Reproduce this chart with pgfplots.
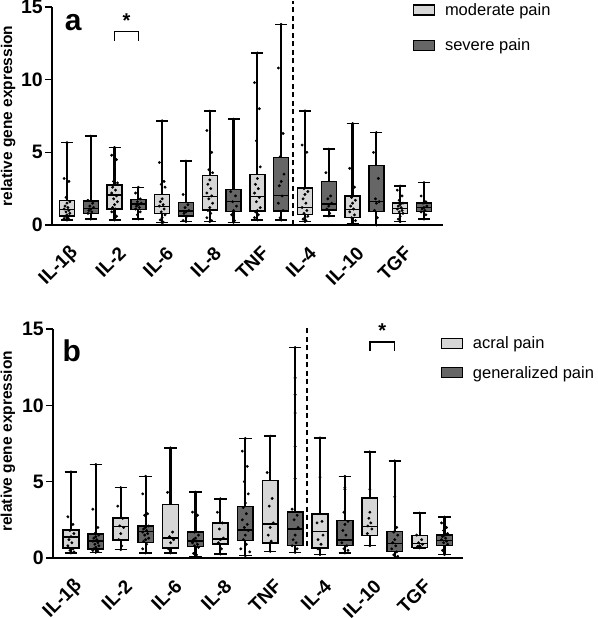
\documentclass[border=0pt]{standalone}
\usepackage{fontspec}
\setmainfont{Liberation Sans}
\usepackage{pgfplots}
\pgfplotsset{compat=1.18}
\usepgfplotslibrary{statistics}
\definecolor{lightg}{RGB}{214,214,214}
\definecolor{darkg}{RGB}{102,102,102}

% #1 position, #2 lower whisker, #3 q1, #4 median, #5 q3, #6 upper whisker, #7 fill
\newcommand{\bx}[7]{%
\addplot[black, line width=2.2pt, forget plot] coordinates {(#1,#2) (#1,#3)};
\addplot[black, line width=2.2pt, forget plot] coordinates {(#1,#5) (#1,#6)};
\addplot[boxplot prepared={draw position=#1, lower whisker=#2, lower quartile=#3, median=#4, upper quartile=#5, upper whisker=#6, box extend=0.63, whisker extend=0.5}, fill=#7, draw=black, solid, line width=1.5pt, forget plot] coordinates {};}

\pgfplotsset{
 prism/.style={
  scale only axis,
  axis lines=left,
  axis line style={-, line width=1.6pt},
  ymin=0, ymax=15,
  ytick={0,5,10,15},
  tick align=outside,
  major tick length=7pt,
  ytick style={line width=1.6pt, black},
  xtick={0,2,...,14},
  xticklabels={IL-1β, IL-2, IL-6, IL-8, TNF, IL-4, IL-10, TGF},
  xtick style={draw=none},
  yticklabel style={font=\fontsize{19.5}{22}\selectfont\bfseries, inner sep=2pt},
  xticklabel style={font=\fontsize{19}{22}\selectfont\bfseries, inner sep=0pt, xshift=8pt, yshift=-18pt, rotate=45, anchor=east},
  /pgf/number format/assume math mode=true,
  clip=false,
  ylabel={relative gene expression},
  ylabel style={font=\fontsize{15.5}{18}\selectfont\bfseries},
  legend style={draw=none, fill=none, font=\fontsize{16.5}{20}\selectfont, inner sep=0pt, nodes={inner sep=1pt}, column sep=9pt},
  legend cell align=left,
  boxplot/draw direction=y,
  boxplot/every median/.style={line width=1.5pt},
 },
 dots/.style={only marks, mark=*, mark size=1.25pt, black, forget plot},
}

\begin{document}
\begin{tikzpicture}[x=1pt,y=1pt]
% ---------------- panel a ----------------
\begin{axis}[prism, at={(52pt,393pt)}, anchor=south west, width=391pt, height=218pt,
  xmin=-0.63, xmax=15.8,
  ylabel style={at={(axis description cs:-0.112,0.5)}, anchor=center},
  legend style={at={(axis description cs:0.922,1.022)}, anchor=north west, row sep=20pt}]
\addlegendimage{legend image code/.code={\draw[fill=lightg,draw=black,line width=1.3pt] (0pt,-5pt) rectangle (21pt,5pt);}}
\addlegendimage{legend image code/.code={\draw[fill=darkg,draw=black,line width=1.3pt] (0pt,-5pt) rectangle (21pt,5pt);}}
\legend{moderate pain, severe pain}
\bx{0}{0.34}{0.62}{1.05}{1.67}{5.66}{lightg}
\bx{1}{0.41}{0.80}{1.15}{1.65}{6.11}{darkg}
\bx{2}{0.34}{1.10}{2.05}{2.75}{5.34}{lightg}
\bx{3}{0.41}{1.08}{1.44}{1.76}{2.59}{darkg}
\bx{4}{0.16}{0.80}{1.26}{2.10}{7.17}{lightg}
\bx{5}{0.23}{0.62}{0.98}{1.56}{4.40}{darkg}
\bx{6}{0.23}{1.03}{1.95}{3.39}{7.83}{lightg}
\bx{7}{0.18}{0.92}{1.60}{2.45}{7.28}{darkg}
\bx{8}{0.34}{0.98}{1.95}{3.48}{11.84}{lightg}
\bx{9}{0.34}{0.98}{2.02}{4.65}{13.81}{darkg}
\bx{10}{0.23}{0.73}{1.21}{2.56}{7.85}{lightg}
\bx{11}{0.62}{1.03}{1.44}{2.98}{5.22}{darkg}
\bx{12}{0.07}{0.53}{1.08}{2.00}{6.98}{lightg}
\bx{13}{0.00}{0.92}{1.60}{4.08}{6.37}{darkg}
\bx{14}{0.23}{0.80}{1.14}{1.53}{2.68}{lightg}
\bx{15}{0.41}{0.92}{1.21}{1.53}{2.91}{darkg}
\addplot[dots] coordinates {
(0,5.66) (-0.12,3.2) (0.08,3.0) (-0.04,1.9) (0.12,1.6) (0,1.5) (-0.08,1.3) (0.04,1.2) (-0.12,1.1) (0.08,1.0) (-0.04,0.9) (0.12,0.8) (0,0.7) (-0.08,0.6) (0.04,0.5) (-0.12,0.45) (0.08,0.4) (0,0.34)
(1,6.11) (0.88,1.7) (1.08,1.5) (0.96,1.3) (1.12,1.2) (1,1.1) (0.92,1.0) (1.04,0.9) (0.88,0.8) (1,0.41)
(2,5.34) (1.88,4.8) (2.08,4.5) (1.96,3.0) (2.12,2.9) (2,2.8) (1.92,2.6) (2.04,2.4) (1.88,2.2) (2.08,2.0) (1.96,1.8) (2.12,1.6) (2,1.4) (1.92,1.2) (2.04,1.1) (1.88,0.9) (2.08,0.6) (2,0.34)
(3,2.59) (2.88,2.2) (3.08,1.8) (2.96,1.6) (3.12,1.5) (3,1.4) (2.92,1.3) (3.04,1.2) (2.88,1.1) (3.08,0.9) (2.96,0.7) (3,0.41)
(4,7.17) (3.88,4.3) (4.08,3.0) (3.96,2.8) (4.12,2.6) (4,1.8) (3.92,1.6) (4.04,1.4) (3.88,1.3) (4.08,1.1) (3.96,0.9) (4.12,0.7) (4,0.5) (3.92,0.35) (4.04,0.2) (4,0.16)
(5,4.40) (4.88,2.1) (5.08,1.4) (4.96,1.2) (5.12,1.0) (5,0.9) (4.92,0.8) (5.04,0.6) (4.88,0.3) (5,0.23)
(6,7.83) (5.88,6.5) (6.08,5.0) (5.96,3.8) (6.12,3.6) (6,3.1) (5.92,2.8) (6.04,2.5) (5.88,2.2) (6.08,2.0) (5.96,1.8) (6.12,1.5) (6,1.2) (5.92,1.0) (6.04,0.8) (5.88,0.5) (6.08,0.3) (6,0.23)
(7,7.28) (6.88,2.3) (7.08,2.0) (6.96,1.6) (7.12,1.3) (7,1.0) (6.92,0.7) (7.04,0.3) (7,0.18)
(8,11.84) (7.88,9.8) (8.08,8.0) (7.96,5.8) (8.12,4.0) (8,3.2) (7.92,2.8) (8.04,2.5) (7.88,2.2) (8.08,1.9) (7.96,1.6) (8.12,1.2) (8,1.0) (7.92,0.9) (8.04,0.7) (7.88,0.5) (8,0.34)
(9,13.81) (8.88,10.8) (9.08,6.3) (8.96,4.7) (9.12,3.5) (9,3.0) (8.92,2.7) (9.04,2.0) (8.88,1.5) (9.08,1.0) (8.96,0.5) (9,0.34)
(10,7.85) (9.88,5.5) (10.08,5.0) (9.96,2.5) (10.12,2.3) (10,2.1) (9.92,1.8) (10.04,1.5) (9.88,1.2) (10.08,1.0) (9.96,0.8) (10.12,0.6) (10,0.5) (9.92,0.4) (10.04,0.3) (10,0.23)
(11,5.22) (10.88,3.6) (11.08,2.0) (10.96,1.8) (11.12,1.5) (11,1.3) (10.92,1.1) (11.04,0.8) (11,0.62)
(12,6.98) (11.88,3.9) (12.08,2.6) (11.96,1.9) (12.12,1.7) (12,1.5) (11.92,1.3) (12.04,1.1) (11.88,0.9) (12.08,0.7) (11.96,0.5) (12.12,0.3) (12,0.15) (12,0.07)
(13,6.37) (12.88,5.0) (13.08,3.2) (12.96,1.8) (13.12,1.6) (13,1.5) (12.92,1.0) (13.04,0.5) (13,0.0)
(14,2.68) (13.88,2.4) (14.08,2.0) (13.96,1.7) (14.12,1.5) (14,1.4) (13.92,1.3) (14.04,1.2) (13.88,1.1) (14.08,1.0) (13.96,0.9) (14.12,0.8) (14,0.6) (13.92,0.4) (14,0.23)
(15,2.91) (14.88,2.0) (15.08,1.6) (14.96,1.5) (15.12,1.3) (15,1.2) (14.92,1.1) (15.04,1.0) (14.88,0.9) (15.08,0.7) (15,0.41)
};
\addplot[black, line width=1.5pt, dash pattern=on 5pt off 3.5pt, forget plot] coordinates {(9.5,0) (9.5,15.4)};
\addplot[black, line width=1.4pt, forget plot] coordinates {(2,12.66) (2,13.3) (3,13.3) (3,12.66)};
\node[font=\fontsize{20}{20}\selectfont\bfseries] at (axis cs:2.5,14.05) {*};
\node[font=\fontsize{30}{30}\selectfont\bfseries] at (axis description cs:0.054,0.927) {a};
\end{axis}
% ---------------- panel b ----------------
\begin{axis}[prism, at={(53pt,60pt)}, anchor=south west, width=410pt, height=229pt,
  xmin=-0.72, xmax=15.74,
  ylabel style={at={(axis description cs:-0.11,0.51)}, anchor=center},
  legend style={at={(axis description cs:0.945,0.972)}, anchor=north west, row sep=14pt}]
\addlegendimage{legend image code/.code={\draw[fill=lightg,draw=black,line width=1.3pt] (0pt,-5pt) rectangle (21pt,5pt);}}
\addlegendimage{legend image code/.code={\draw[fill=darkg,draw=black,line width=1.3pt] (0pt,-5pt) rectangle (21pt,5pt);}}
\legend{acral pain, generalized pain}
\bx{0}{0.33}{0.66}{1.36}{1.84}{5.64}{lightg}
\bx{1}{0.37}{0.59}{1.10}{1.58}{6.12}{darkg}
\bx{2}{0.55}{1.18}{2.06}{2.63}{4.61}{lightg}
\bx{3}{0.33}{1.03}{1.73}{2.08}{5.35}{darkg}
\bx{4}{0.33}{0.66}{1.32}{3.51}{7.21}{lightg}
\bx{5}{0.09}{0.75}{1.10}{1.69}{4.32}{darkg}
\bx{6}{0.26}{0.92}{1.25}{2.28}{3.88}{lightg}
\bx{7}{0.15}{1.14}{1.84}{3.38}{7.83}{darkg}
\bx{8}{0.44}{0.99}{2.24}{5.09}{7.98}{lightg}
\bx{9}{0.37}{0.81}{1.91}{3.00}{13.79}{darkg}
\bx{10}{0.22}{0.66}{1.75}{2.89}{7.87}{lightg}
\bx{11}{0.33}{0.81}{1.18}{2.46}{5.35}{darkg}
\bx{12}{0.81}{1.47}{2.06}{3.93}{6.95}{lightg}
\bx{13}{0.04}{0.44}{0.96}{1.73}{6.36}{darkg}
\bx{14}{0.66}{0.70}{0.96}{1.47}{2.94}{lightg}
\bx{15}{0.22}{0.81}{1.14}{1.51}{2.68}{darkg}
\addplot[dots] coordinates {
(0,5.64) (-0.12,2.7) (0.08,2.2) (-0.04,1.8) (0.12,1.6) (0,1.4) (-0.08,1.2) (0.04,1.0) (-0.12,0.8) (0.08,0.6) (-0.04,0.5) (0.12,0.4) (0,0.33)
(1,6.12) (0.88,3.2) (1.08,2.0) (0.96,1.6) (1.12,1.5) (1,1.4) (0.92,1.3) (1.04,1.2) (0.88,1.1) (1.08,1.0) (0.96,0.9) (1.12,0.8) (1,0.7) (0.92,0.6) (1.04,0.55) (0.88,0.5) (1.08,0.45) (1,0.37)
(2,4.61) (1.88,3.4) (2.08,2.6) (1.96,2.1) (2.12,2.0) (2,1.6) (1.92,1.2) (2.04,0.8) (2,0.55)
(3,5.35) (2.88,4.2) (3.08,2.9) (2.96,2.8) (3.12,2.1) (3,2.0) (2.92,1.9) (3.04,1.8) (2.88,1.7) (3.08,1.6) (2.96,1.5) (3.12,1.3) (3,1.2) (2.92,1.1) (3.04,0.9) (2.88,0.6) (3,0.33)
(4,7.21) (3.88,4.3) (4.08,1.7) (3.96,1.4) (4.12,1.2) (4,1.0) (3.92,0.6) (4,0.33)
(5,4.32) (4.88,3.0) (5.08,2.8) (4.96,1.7) (5.12,1.5) (5,1.3) (4.92,1.2) (5.04,1.1) (4.88,1.0) (5.08,0.9) (4.96,0.8) (5.12,0.7) (5,0.5) (4.92,0.3) (5.04,0.2) (5,0.09)
(6,3.88) (5.88,3.0) (6.08,2.3) (5.96,1.9) (6.12,1.3) (6,1.2) (5.92,1.0) (6.04,0.6) (6,0.26)
(7,7.83) (6.88,7.0) (7.08,6.0) (6.96,5.0) (7.12,4.2) (7,3.6) (6.92,3.3) (7.04,2.9) (6.88,2.5) (7.08,2.2) (6.96,2.0) (7.12,1.8) (7,1.5) (6.92,1.2) (7.04,0.9) (6.82,0.6) (7.18,0.4) (7,0.15)
(8,7.98) (7.88,5.6) (8.08,3.9) (7.96,3.4) (8.12,2.3) (8,2.0) (7.92,1.5) (8.04,1.1) (8,0.44)
(9,13.79) (9,11.8) (9,10.7) (9,9.5) (9,7.3) (9,5.2) (8.88,3.2) (9.08,2.8) (8.96,2.5) (9.12,2.0) (9,1.5) (8.92,1.2) (9.04,1.0) (8.88,0.8) (9.08,0.6) (9,0.37)
(10,7.87) (10,5.3) (10.08,2.4) (9.88,2.3) (10.12,1.5) (9.92,1.2) (10.04,0.9) (9.92,0.6) (10,0.22)
(11,5.35) (11,4.6) (11,4.5) (10.96,3.0) (11.12,2.4) (11,2.2) (10.92,1.8) (11.04,1.5) (10.88,1.0) (11.08,0.8) (10.96,0.6) (11.12,0.5) (11,0.33)
(12,6.95) (12,4.5) (12,3.0) (11.96,2.6) (12.04,2.3) (11.92,2.1) (12.08,1.9) (11.9,1.6) (12,0.81)
(13,6.36) (13,4.0) (13.08,2.0) (12.96,1.7) (13.12,1.5) (13,1.2) (12.92,1.0) (13.04,0.8) (12.88,0.6) (13.08,0.4) (12.96,0.2) (13.12,0.1) (13,0.04)
(14,2.94) (13.88,1.5) (14.08,1.2) (13.96,1.0) (14.12,0.9) (14,0.8) (13.92,0.75) (14.04,0.7) (14,0.66)
(15,2.68) (14.88,2.3) (15.08,2.0) (14.96,1.8) (15.12,1.6) (15,1.5) (14.92,1.4) (15.04,1.3) (14.88,1.2) (15.08,1.1) (14.96,1.0) (15.12,0.9) (15,0.7) (14.92,0.5) (15,0.22)
};
\addplot[black, line width=1.5pt, dash pattern=on 5pt off 3.5pt, forget plot] coordinates {(9.48,0.8) (9.48,15.05)};
\addplot[black, line width=1.4pt, forget plot] coordinates {(12,13.57) (12,14.16) (13,14.16) (13,13.57)};
\node[font=\fontsize{20}{20}\selectfont\bfseries] at (axis cs:12.5,14.9) {*};
\node[font=\fontsize{30}{30}\selectfont\bfseries] at (axis description cs:0.046,0.905) {b};
\end{axis}
\pgfresetboundingbox
\path (0,0) rectangle (597,618);
\end{tikzpicture}
\end{document}
